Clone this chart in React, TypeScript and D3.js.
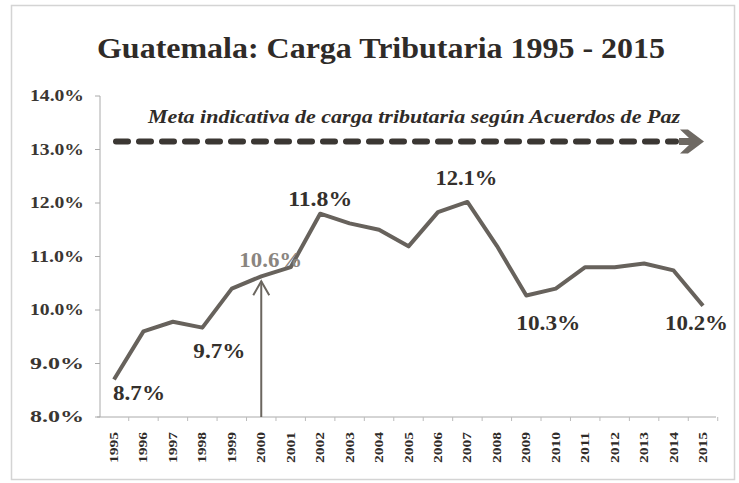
import React from "react";
import * as d3 from "d3";

const years = ["1995","1996","1997","1998","1999","2000","2001","2002","2003","2004","2005","2006","2007","2008","2009","2010","2011","2012","2013","2014","2015"];
const carga = [8.7, 9.6, 9.78, 9.67, 10.4, 10.63, 10.8, 11.8, 11.62, 11.5, 11.19, 11.83, 12.02, 11.2, 10.27, 10.4, 10.8, 10.8, 10.87, 10.74, 10.08];
const yTicks = [8, 9, 10, 11, 12, 13, 14];
const metaValue = 13.15;
const labelYears = ["1995", "1998", "2000", "2002", "2007", "2009", "2015"];
const labelTexts = ["8.7%", "9.7%", "10.6%", "11.8%", "12.1%", "10.3%", "10.2%"];
const title = "Guatemala: Carga Tributaria 1995 - 2015";
const metaText = "Meta indicativa de carga tributaria según Acuerdos de Paz";
const arrowYear = "2000";

// label placement offsets (dx from point x to text start, dy from point y to baseline, width)
const labelOffsets: Record<string, [number, number, number]> = {
  "1995": [-1, 20, 52],
  "1998": [-9, 30, 52],
  "2000": [-22, -9, 63],
  "2002": [-32, -8, 64],
  "2007": [-32, -17, 62],
  "2009": [-10, 34, 64],
  "2015": [-38, 24, 63],
};

export default function App() {
  const W = 739, H = 483;
  const x = d3.scalePoint<string>().domain(years).range([114, 703]);
  const y = d3.scaleLinear().domain([8, 14]).range([417, 96]);
  const line = d3.line<number>().x((_, i) => x(years[i])!).y((d) => y(d));
  const font = "Liberation Serif, Times New Roman, Tinos, Times, serif";
  const step = x.step();
  const metaY = y(metaValue);
  const ax = x(arrowYear)!;
  const ayTop = y(carga[years.indexOf(arrowYear)]) + 5;

  return (
    <svg width={W} height={H} style={{ position: "absolute", left: 0, top: 0, background: "#fff", fontFamily: font }}>
      <rect x={11.5} y={5.5} width={723} height={474} fill="none" stroke="#d4d4d4" strokeWidth={1.5} />
      <text x={381} y={58} textAnchor="middle" fontSize={29} fontWeight="bold" fill="#2f2b28" textLength={568} lengthAdjust="spacingAndGlyphs">{title}</text>

      {/* y axis */}
      <line x1={100} x2={100} y1={y(14)} y2={y(8)} stroke="#aaa" strokeWidth={1} />
      {yTicks.map((t) => (
        <g key={t}>
          <line x1={95} x2={100} y1={y(t)} y2={y(t)} stroke="#aaa" />
          <text x={84} y={y(t) + 5} textAnchor="end" fontSize={16} fontWeight="bold" fill="#3a3632" textLength={54} lengthAdjust="spacingAndGlyphs">{t.toFixed(1) + "%"}</text>
        </g>
      ))}

      {/* x axis */}
      <line x1={97} x2={716} y1={y(8)} y2={y(8)} stroke="#aaa" strokeWidth={1} />
      {years.map((yr) => (
        <g key={yr}>
          <line x1={x(yr)! + step / 2} x2={x(yr)! + step / 2} y1={y(8)} y2={y(8) + 4} stroke="#bbb" />
          <text transform={`translate(${x(yr)! + 4},463) rotate(-90)`} fontSize={12} fontWeight="bold" fill="#2f2b28" textLength={31} lengthAdjust="spacingAndGlyphs">{yr}</text>
        </g>
      ))}

      {/* meta dashed arrow */}
      <text x={148} y={123} fontSize={18} fontStyle="italic" fontWeight="bold" fill="#2f2b28" textLength={532} lengthAdjust="spacingAndGlyphs">{metaText}</text>
      <line x1={116} x2={676} y1={metaY} y2={metaY} stroke="#3b3733" strokeWidth={6} strokeDasharray="12 11" strokeLinecap="round" />
      <path d={`M679,${metaY - 3.5} L689,${metaY - 3.5} L680,${metaY - 12} L688,${metaY - 12} L704,${metaY} L688,${metaY + 12} L680,${metaY + 12} L689,${metaY + 3.5} L679,${metaY + 3.5} Z`} fill="#6e6963" />

      {/* vertical arrow */}
      <line x1={ax} x2={ax} y1={y(8)} y2={ayTop} stroke="#6b665f" strokeWidth={2} />
      <polyline points={`${ax - 8},${ayTop + 14} ${ax},${ayTop} ${ax + 8},${ayTop + 14}`} fill="none" stroke="#6b665f" strokeWidth={2} />

      {/* data line */}
      <path d={line(carga)!} fill="none" stroke="#67625c" strokeWidth={4} strokeLinejoin="round" />

      {/* labels */}
      {labelYears.map((yr, i) => {
        const [dx, dy, w] = labelOffsets[yr];
        const px = x(yr)!;
        const py = y(carga[years.indexOf(yr)]);
        return (
          <text key={yr} x={px + dx} y={py + dy} fontSize={20} fontWeight="bold" fill={yr === arrowYear ? "#8a8580" : "#34302c"} textLength={w} lengthAdjust="spacingAndGlyphs">{labelTexts[i]}</text>
        );
      })}
    </svg>
  );
}
